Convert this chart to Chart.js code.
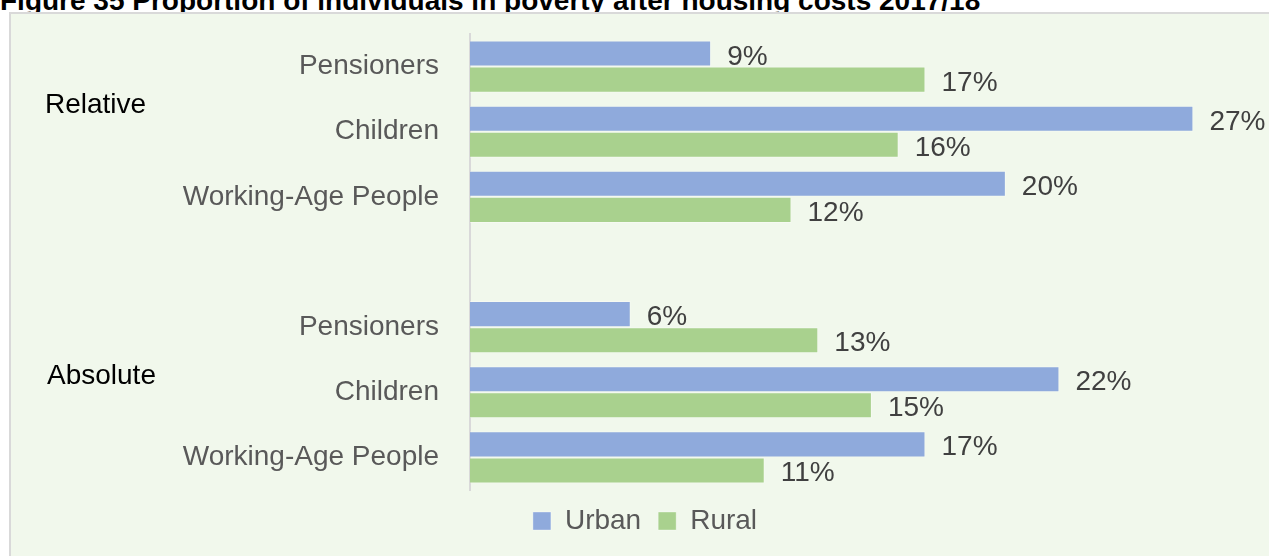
<!DOCTYPE html>
<html>
<head>
<meta charset="utf-8">
<title>Proportion of individuals in poverty after housing costs 2017/18</title>
<script src="https://cdn.jsdelivr.net/npm/chart.js@4.4.1/dist/chart.umd.min.js"></script>
<style>
  html, body { margin: 0; padding: 0; width: 1269px; height: 556px; overflow: hidden; background: #fff; }
  #title {
    position: absolute; left: 0; top: -13px; z-index: 0;
    font: bold 28px "Liberation Sans", Arial, sans-serif; line-height: 28px;
    color: #000; white-space: nowrap;
  }
  #frame {
    position: absolute; left: 9px; top: 12px; z-index: 1;
    width: 1300px; height: 600px;
    background: #f1f8ec; border: 2px solid #d9d9d9;
  }
  #chart { position: absolute; left: 0; top: 0; z-index: 2; }
</style>
</head>
<body>
<div id="title">Figure 35 Proportion of individuals in poverty after housing costs 2017/18</div>
<div id="frame"></div>
<canvas id="chart" width="1290" height="556"></canvas>

<script>
'use strict';

// ── Data ──────────────────────────────────────────────
const CATEGORIES = ['Pensioners', 'Children', 'Working-Age People', '',
                    'Pensioners', 'Children', 'Working-Age People'];
const GROUPS     = ['Relative', 'Absolute'];
const URBAN      = [9, 27, 20, null, 6, 22, 17];
const RURAL      = [17, 16, 12, null, 13, 15, 11];
const X_MAX      = 29;

const FONT = '"Liberation Sans", Arial, sans-serif';

// ── Plugins ───────────────────────────────────────────
// value labels to the right of each bar
const valueLabels = {
  id: 'valueLabels',
  afterDatasetsDraw(chart) {
    const { ctx } = chart;
    ctx.save();
    ctx.font = '28px ' + FONT;
    ctx.fillStyle = '#404040';
    ctx.textAlign = 'left';
    ctx.textBaseline = 'alphabetic';
    chart.data.datasets.forEach((ds, i) => {
      chart.getDatasetMeta(i).data.forEach((bar, j) => {
        if (ds.data[j] == null) return;
        ctx.fillText(ds.data[j] + '%', bar.x + 16, bar.y + 11);
      });
    });
    ctx.restore();
  }
};

// outer group labels (Relative / Absolute)
const groupLabels = {
  id: 'groupLabels',
  afterDraw(chart) {
    const { ctx } = chart;
    const y = chart.scales.y;
    const spots = [
      { x: 45, y: y.getPixelForValue(1) - 19 },
      { x: 47, y: y.getPixelForValue(5) - 8 },
    ];
    ctx.save();
    ctx.font = '28px ' + FONT;
    ctx.fillStyle = '#000';
    ctx.textBaseline = 'alphabetic';
    GROUPS.forEach((g, i) => ctx.fillText(g, spots[i].x, spots[i].y));
    ctx.restore();
  }
};

// ── Chart ─────────────────────────────────────────────
new Chart(document.getElementById('chart'), {
  type: 'bar',
  data: {
    labels: CATEGORIES,
    datasets: [
      {
        label: 'Urban',
        data: URBAN,
        backgroundColor: '#8faadc',
        borderColor: 'rgba(255,255,255,0.35)',
        borderWidth: 1,
      },
      {
        label: 'Rural',
        data: RURAL,
        backgroundColor: '#a9d18e',
        borderColor: 'rgba(255,255,255,0.35)',
        borderWidth: 1,
      }
    ]
  },
  options: {
    indexAxis: 'y',
    responsive: false,
    animation: false,
    devicePixelRatio: 1,
    categoryPercentage: 0.8,
    barPercentage: 1.0,
    layout: { padding: { top: 34, right: 43, bottom: 11, left: 43 } },
    plugins: {
      tooltip: { enabled: false },
      legend: {
        position: 'bottom',
        labels: {
          boxWidth: 18,
          boxHeight: 18,
          padding: 17,
          color: '#595959',
          font: { family: FONT, size: 28 },
        }
      }
    },
    scales: {
      x: { display: false, min: 0, max: X_MAX },
      y: {
        grid: { display: false },
        border: { display: true, color: '#d9d9d9', width: 2 },
        ticks: {
          padding: 23,
          color: '#595959',
          font: { family: FONT, size: 28 },
        },
        afterFit(scale) {
          scale.width = 427;
          scale.paddingTop = 0;
          scale.paddingBottom = 0;
        }
      }
    }
  },
  plugins: [valueLabels, groupLabels]
});
</script>
</body>
</html>
